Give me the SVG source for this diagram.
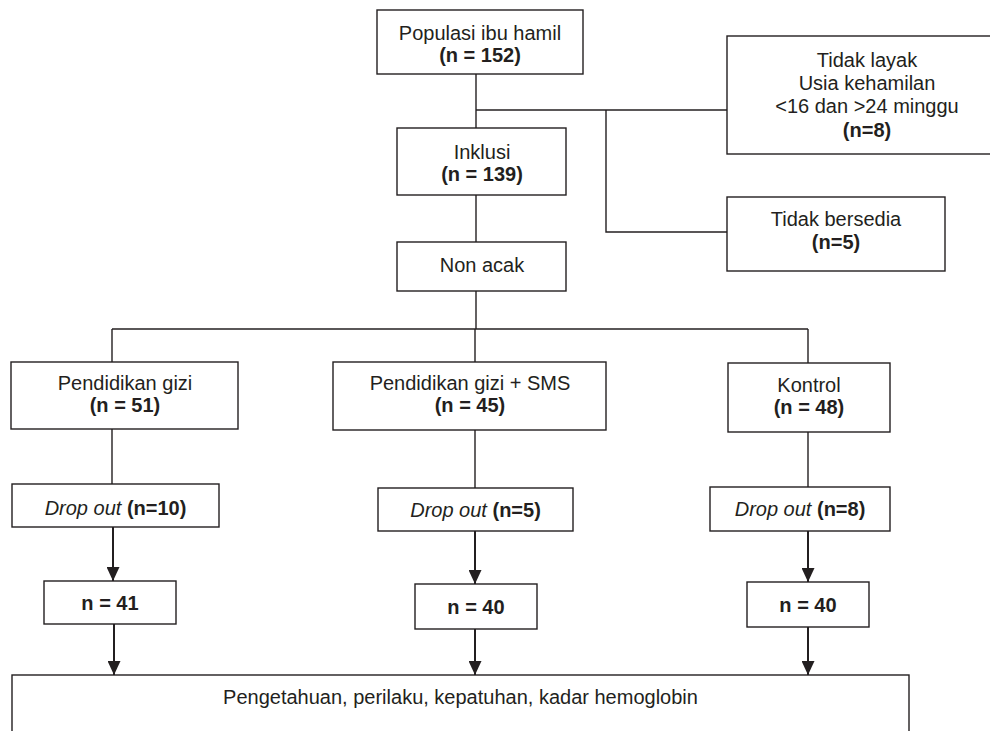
<svg xmlns="http://www.w3.org/2000/svg" width="990" height="731" viewBox="0 0 990 731">
<style>
.box{fill:#fff;stroke:#231f20;stroke-width:1.4}
.ln{fill:none;stroke:#231f20;stroke-width:1.4}
.ar{fill:none;stroke:#231f20;stroke-width:2}
text{font-family:"Liberation Sans",Arial,sans-serif;font-size:20px;fill:#231f20;text-anchor:middle}
.b{font-weight:bold}
.i{font-style:italic}
</style>
<defs>
<marker id="ah" viewBox="0 0 14 13" refX="14" refY="6.5" markerWidth="14" markerHeight="13" markerUnits="userSpaceOnUse" orient="auto">
<path d="M0,0 L14,6.5 L0,13 Z" fill="#231f20"/>
</marker>
</defs>
<g id="connectors">
<path class="ln" d="M476,74 V128"/>
<path class="ln" d="M476,110 H727"/>
<path class="ln" d="M606,110 V232 H727"/>
<path class="ln" d="M476,195 V242"/>
<path class="ln" d="M476,291 V329"/>
<path class="ln" d="M112,329 H808"/>
<path class="ln" d="M112,329 V362"/>
<path class="ln" d="M475,329 V362"/>
<path class="ln" d="M808,329 V363"/>
<path class="ln" d="M112,429 V484"/>
<path class="ln" d="M475,430 V488"/>
<path class="ln" d="M808,432 V487"/>
<path class="ar" d="M113,527 V581" marker-end="url(#ah)"/>
<path class="ar" d="M475,531 V584" marker-end="url(#ah)"/>
<path class="ar" d="M808,531 V582" marker-end="url(#ah)"/>
<path class="ar" d="M114,624 V675" marker-end="url(#ah)"/>
<path class="ar" d="M475,629 V675" marker-end="url(#ah)"/>
<path class="ar" d="M808,627 V675" marker-end="url(#ah)"/>
</g>
<g id="populasi">
<rect class="box" x="377" y="10" width="206" height="64"/>
<text x="480" y="40">Populasi ibu hamil</text>
<text x="480" y="62" class="b">(n = 152)</text>
</g>
<g id="tidak-layak">
<rect class="box" x="727" y="36" width="280" height="118"/>
<text x="867" y="67">Tidak layak</text>
<text x="867" y="90">Usia kehamilan</text>
<text x="867" y="113">&lt;16 dan &gt;24 minggu</text>
<text x="867" y="137" class="b">(n=8)</text>
</g>
<g id="inklusi">
<rect class="box" x="397" y="128" width="169" height="67"/>
<text x="482" y="159">Inklusi</text>
<text x="482" y="181" class="b">(n = 139)</text>
</g>
<g id="tidak-bersedia">
<rect class="box" x="727" y="197" width="218" height="74"/>
<text x="836" y="226">Tidak bersedia</text>
<text x="836" y="249" class="b">(n=5)</text>
</g>
<g id="non-acak">
<rect class="box" x="397" y="242" width="169" height="49"/>
<text x="482" y="272">Non acak</text>
</g>
<g id="pendidikan-gizi">
<rect class="box" x="11" y="362" width="227" height="67"/>
<text x="125" y="390">Pendidikan gizi</text>
<text x="125" y="412" class="b">(n = 51)</text>
</g>
<g id="pendidikan-gizi-sms">
<rect class="box" x="333" y="362" width="273" height="68"/>
<text x="470" y="390">Pendidikan gizi + SMS</text>
<text x="470" y="412" class="b">(n = 45)</text>
</g>
<g id="kontrol">
<rect class="box" x="728" y="363" width="162" height="69"/>
<text x="809" y="392">Kontrol</text>
<text x="809" y="414" class="b">(n = 48)</text>
</g>
<g id="dropout-1">
<rect class="box" x="12" y="484" width="207" height="43"/>
<text x="115.5" y="515"><tspan class="i">Drop out</tspan> <tspan class="b">(n=10)</tspan></text>
</g>
<g id="dropout-2">
<rect class="box" x="378" y="488" width="195" height="43"/>
<text x="475.5" y="517"><tspan class="i">Drop out</tspan> <tspan class="b">(n=5)</tspan></text>
</g>
<g id="dropout-3">
<rect class="box" x="710" y="487" width="180" height="44"/>
<text x="800" y="516"><tspan class="i">Drop out</tspan> <tspan class="b">(n=8)</tspan></text>
</g>
<g id="n41">
<rect class="box" x="44" y="581" width="132" height="43"/>
<text x="110" y="610" class="b">n = 41</text>
</g>
<g id="n40a">
<rect class="box" x="415" y="584" width="122" height="45"/>
<text x="476" y="614" class="b">n = 40</text>
</g>
<g id="n40b">
<rect class="box" x="747" y="582" width="122" height="45"/>
<text x="808" y="612" class="b">n = 40</text>
</g>
<g id="hasil">
<rect class="box" x="12" y="675" width="897" height="80"/>
<text x="460.5" y="704">Pengetahuan, perilaku, kepatuhan, kadar hemoglobin</text>
</g>
</svg>
